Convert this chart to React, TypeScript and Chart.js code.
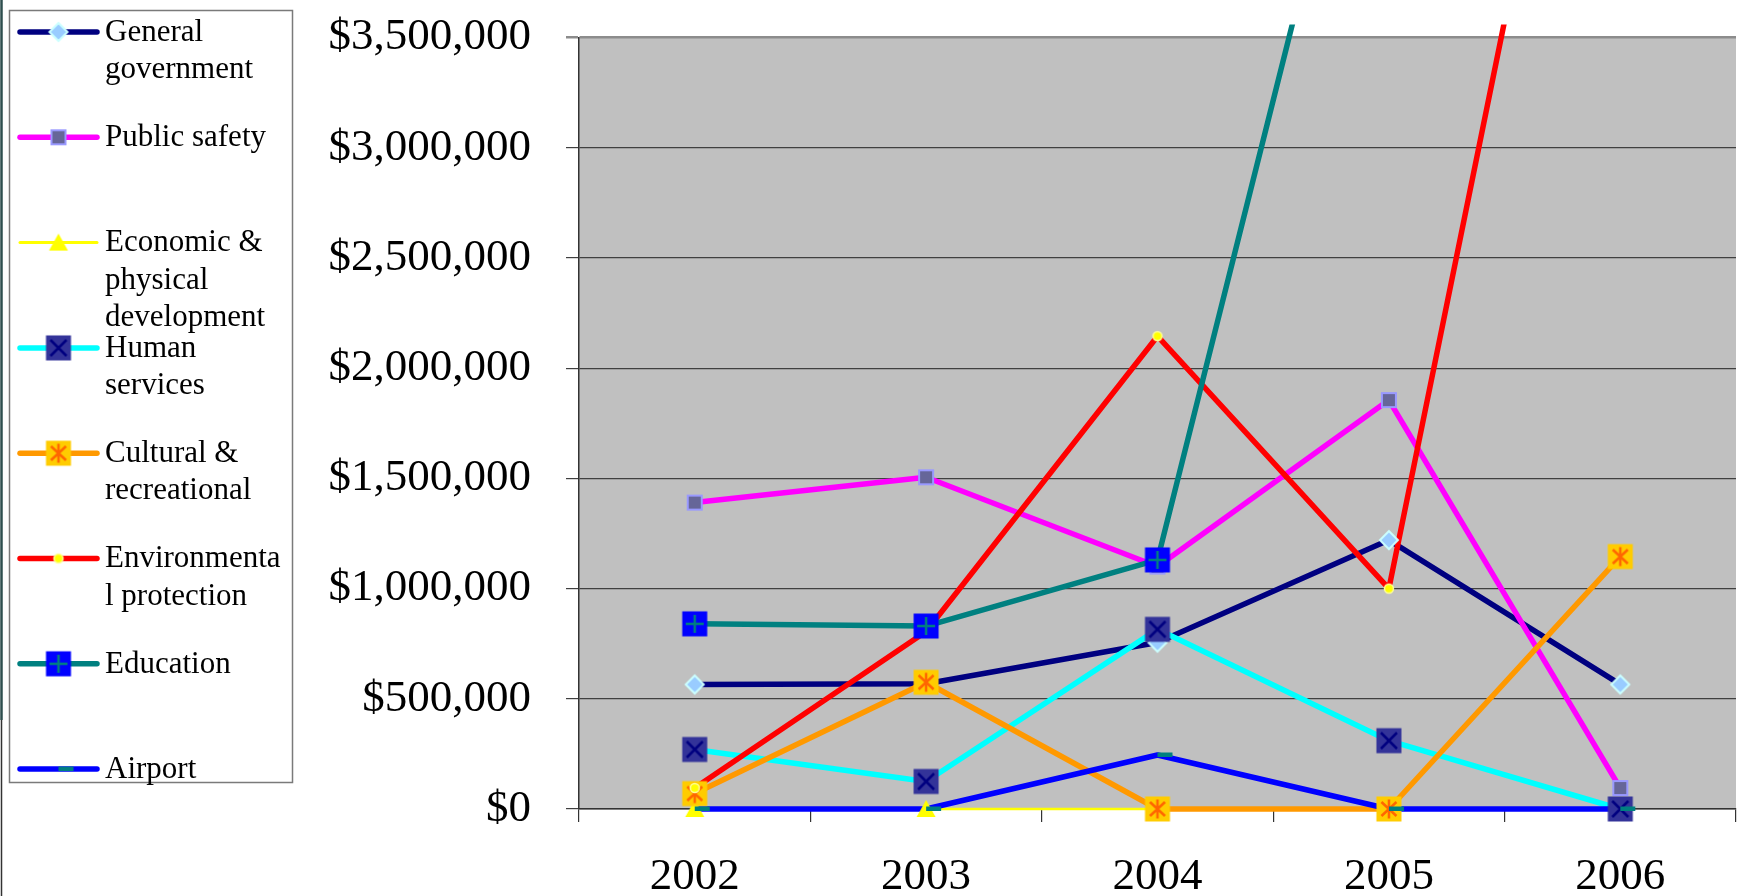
import React, { useEffect, useRef } from 'react';
import { Chart, registerables } from 'chart.js';

Chart.register(...registerables);

// ---------- data ----------
const years = ['2002', '2003', '2004', '2005', '2006'];

const generalGovernment = [565000, 568000, 755000, 1220000, 565000];
const publicSafety = [1390000, 1505000, 1100000, 1855000, 95000];
const economicPhysicalDevelopment = [0, 0, 0, 0, 0];
const humanServices = [270000, 125000, 815000, 310000, 0];
const culturalRecreational = [70000, 575000, 0, 0, 1145000];
const environmentalProtection = [95000, 805000, 2145000, 1000000, 6150000];
const education = [840000, 830000, 1130000, 5300000, 5500000];
const airport = [0, 0, 245000, 0, 0];

const seriesLabels = [
  ['General', 'government'],
  ['Public safety'],
  ['Economic &', 'physical', 'development'],
  ['Human', 'services'],
  ['Cultural &', 'recreational'],
  ['Environmenta', 'l protection'],
  ['Education'],
  ['Airport'],
];

const seriesData = [
  generalGovernment,
  publicSafety,
  economicPhysicalDevelopment,
  humanServices,
  culturalRecreational,
  environmentalProtection,
  education,
  airport,
];

const yMin = 0;
const yMax = 3500000;
const yStep = 500000;

// ---------- styles ----------
const lineColors = ['#000080', '#FF00FF', '#FFFF00', '#00FFFF', '#FF9900', '#FF0000', '#008080', '#0000FF'];
const lineWidths = [5.5, 5.5, 2.5, 5.5, 5.5, 5.5, 5.5, 5.5];
const markerKinds = ['diamond', 'square', 'triangle', 'xsquare', 'star', 'circle', 'plus', 'dash'];

const FONT = "'Liberation Serif', 'Times New Roman', serif";

function makeMarker(kind: string): HTMLCanvasElement {
  const c = document.createElement('canvas');
  let w = 28;
  let h = 28;
  if (kind === 'dash') {
    w = 36;
    h = 10;
  }
  c.width = w;
  c.height = h;
  const g = c.getContext('2d') as CanvasRenderingContext2D;
  const cx = w / 2;
  const cy = h / 2;
  g.lineCap = 'butt';
  switch (kind) {
    case 'diamond':
      g.beginPath();
      g.moveTo(cx, cy - 9);
      g.lineTo(cx + 9, cy);
      g.lineTo(cx, cy + 9);
      g.lineTo(cx - 9, cy);
      g.closePath();
      g.fillStyle = '#99CCFF';
      g.fill();
      g.strokeStyle = '#CCFFFF';
      g.lineWidth = 2;
      g.stroke();
      break;
    case 'square':
      g.fillStyle = '#666699';
      g.fillRect(cx - 7, cy - 7, 14, 14);
      g.strokeStyle = '#9999FF';
      g.lineWidth = 2;
      g.strokeRect(cx - 7, cy - 7, 14, 14);
      break;
    case 'triangle':
      g.beginPath();
      g.moveTo(cx, cy - 9);
      g.lineTo(cx + 9.5, cy + 8);
      g.lineTo(cx - 9.5, cy + 8);
      g.closePath();
      g.fillStyle = '#FFFF00';
      g.fill();
      break;
    case 'xsquare':
      g.fillStyle = '#333399';
      g.fillRect(cx - 12.5, cy - 12.5, 25, 25);
      g.strokeStyle = '#000080';
      g.lineWidth = 2.5;
      g.beginPath();
      g.moveTo(cx - 8, cy - 8);
      g.lineTo(cx + 8, cy + 8);
      g.moveTo(cx + 8, cy - 8);
      g.lineTo(cx - 8, cy + 8);
      g.stroke();
      break;
    case 'star':
      g.fillStyle = '#FFCC00';
      g.fillRect(cx - 12.5, cy - 12.5, 25, 25);
      g.strokeStyle = '#FF6600';
      g.lineWidth = 2.5;
      g.beginPath();
      g.moveTo(cx - 7.5, cy - 7);
      g.lineTo(cx + 7.5, cy + 7);
      g.moveTo(cx + 7.5, cy - 7);
      g.lineTo(cx - 7.5, cy + 7);
      g.moveTo(cx, cy - 9.5);
      g.lineTo(cx, cy + 9.5);
      g.stroke();
      break;
    case 'circle':
      g.beginPath();
      g.arc(cx, cy, 4.5, 0, Math.PI * 2);
      g.fillStyle = '#FFFF00';
      g.fill();
      g.strokeStyle = '#FFFF99';
      g.lineWidth = 1.5;
      g.stroke();
      break;
    case 'plus':
      g.fillStyle = '#0000FF';
      g.fillRect(cx - 12.5, cy - 12.5, 25, 25);
      g.strokeStyle = '#008080';
      g.lineWidth = 2.5;
      g.beginPath();
      g.moveTo(cx - 9, cy);
      g.lineTo(cx + 9, cy);
      g.moveTo(cx, cy - 9);
      g.lineTo(cx, cy + 9);
      g.stroke();
      break;
    case 'dash':
      g.fillStyle = '#008080';
      g.fillRect(cx, cy - 2.5, 15, 4.5);
      break;
  }
  return c;
}

const plotBackground = {
  id: 'plotBackground',
  beforeDraw(chart: any) {
    const { ctx, chartArea: a } = chart;
    ctx.save();
    ctx.fillStyle = '#C0C0C0';
    ctx.fillRect(a.left, a.top, a.right - a.left, a.bottom - a.top);
    ctx.restore();
  },
};

function makeLegendPlugin(markers: HTMLCanvasElement[]) {
  return {
    id: 'boxLegend',
    afterDraw(chart: any) {
      const ctx: CanvasRenderingContext2D = chart.ctx;
      ctx.save();
      // left edge rule
      ctx.strokeStyle = '#2f4f4f';
      ctx.lineWidth = 2.5;
      ctx.beginPath();
      ctx.moveTo(1.5, 0);
      ctx.lineTo(1.5, 720);
      ctx.stroke();
      ctx.strokeStyle = '#333333';
      ctx.lineWidth = 1.5;
      ctx.beginPath();
      ctx.moveTo(1.5, 720);
      ctx.lineTo(1.5, 896);
      ctx.stroke();

      // legend box
      ctx.fillStyle = '#FFFFFF';
      ctx.fillRect(9.5, 10.5, 283, 772);
      ctx.strokeStyle = '#7a7a7a';
      ctx.lineWidth = 1.5;
      ctx.strokeRect(9.5, 10.5, 283, 772);

      const datasets = chart.data.datasets;
      const n = seriesLabels.length;
      for (let i = 0; i < n; i++) {
        const ds = datasets[i];
        const cy = 32 + i * 105.3;
        ctx.strokeStyle = ds.borderColor;
        ctx.lineWidth = i === 2 ? 3 : 5.5;
        ctx.lineCap = 'round';
        ctx.beginPath();
        ctx.moveTo(20, cy);
        ctx.lineTo(97, cy);
        ctx.stroke();
        const m = markers[i];
        ctx.drawImage(m, 58.5 - m.width / 2, cy - m.height / 2);
        ctx.fillStyle = '#000000';
        ctx.font = `31px ${FONT}`;
        ctx.textBaseline = 'alphabetic';
        ctx.textAlign = 'left';
        seriesLabels[i].forEach((line, k) => {
          ctx.fillText(line, 105, cy + 8.7 + k * 37.5);
        });
      }
      ctx.restore();
    },
  };
}

export default function App() {
  const canvasRef = useRef<HTMLCanvasElement | null>(null);

  useEffect(() => {
    document.body.style.margin = '0';
    const canvas = canvasRef.current;
    if (!canvas) return;
    const markers = markerKinds.map(makeMarker);
    const clip = { left: 40, right: 40, top: 13, bottom: 40 };

    const lineSets = seriesData.map((data, i) => ({
      label: seriesLabels[i].join(' '),
      data,
      borderColor: lineColors[i],
      backgroundColor: lineColors[i],
      borderWidth: lineWidths[i],
      pointRadius: 0,
      pointHoverRadius: 0,
      fill: false,
      tension: 0,
      borderCapStyle: 'round',
      borderJoinStyle: 'round',
      order: 200 - i,
      clip,
    }));
    const markerSets = seriesData.map((data, i) => ({
      label: seriesLabels[i].join(' ') + ' markers',
      data,
      showLine: false,
      borderColor: lineColors[i],
      backgroundColor: lineColors[i],
      pointStyle: markers[i],
      pointRadius: 10,
      pointHoverRadius: 10,
      order: 100 - i,
      clip,
    }));

    const chart = new Chart(canvas, {
      type: 'line',
      data: { labels: years, datasets: [...lineSets, ...markerSets] as any },
      options: {
        responsive: false,
        animation: false,
        events: [],
        layout: { padding: { left: 290, top: 37.5, right: 1, bottom: 0 }, autoPadding: false },
        plugins: { legend: { display: false }, tooltip: { enabled: false } },
        scales: {
          x: {
            type: 'category',
            offset: true,
            grid: {
              offset: true,
              drawOnChartArea: false,
              drawTicks: true,
              tickLength: 13,
              color: '#333333',
              lineWidth: 1.2,
            },
            border: { display: true, color: '#333333', width: 1.5 },
            ticks: {
              font: { family: FONT, size: 45 },
              color: '#000000',
              padding: 28,
              maxRotation: 0,
              autoSkip: false,
            },
            afterFit: (s: any) => {
              s.height = 87;
              s.paddingLeft = 0;
              s.paddingRight = 0;
            },
          },
          y: {
            min: yMin,
            max: yMax,
            ticks: {
              stepSize: yStep,
              font: { family: FONT, size: 45 },
              color: '#000000',
              padding: 35,
              callback: (v: any) => '$' + Number(v).toLocaleString('en-US'),
            },
            grid: {
              color: (c: any) => (c.tick && c.tick.value === yMax ? '#8c8c8c' : '#404040'),
              lineWidth: (c: any) => (c.tick && c.tick.value === yMax ? 2.5 : 1.2),
              tickLength: 13,
              drawTicks: true,
            },
            border: { display: true, color: '#333333', width: 1.5 },
            afterFit: (s: any) => {
              s.width = 289;
              s.paddingTop = 0;
              s.paddingBottom = 0;
            },
          },
        },
      } as any,
      plugins: [plotBackground, makeLegendPlugin(markers)],
    });
    return () => chart.destroy();
  }, []);

  return (
    <div style={{ width: 1737, height: 896 }}>
      <canvas ref={canvasRef} width={1737} height={896} style={{ display: 'block' }} />
    </div>
  );
}
